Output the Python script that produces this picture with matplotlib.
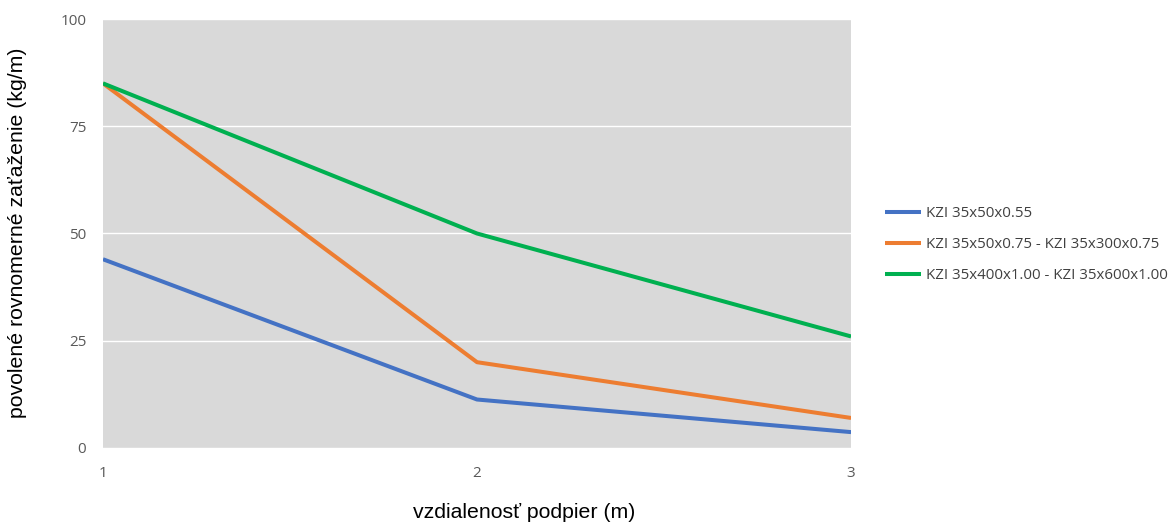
import matplotlib
matplotlib.use('Agg')
import matplotlib.pyplot as plt

# data
distance = [1, 2, 3]
kzi_055 = [44, 11.3, 3.7]
kzi_075 = [85, 20, 7]
kzi_100 = [85, 50, 26]
series_names = ['KZI 35x50x0.55',
                'KZI 35x50x0.75 - KZI 35x300x0.75',
                'KZI 35x400x1.00 - KZI 35x600x1.00']
colors = ['#4472C4', '#ED7D31', '#00B050']
y_ticks = [0, 25, 50, 75, 100]

fig = plt.figure(figsize=(11.7, 5.25), dpi=100)
ax = fig.add_axes([0.088, 0.1467, 0.6394, 0.8171])
ax.set_facecolor('#D9D9D9')

for vals, name, c in zip([kzi_055, kzi_075, kzi_100], series_names, colors):
    ax.plot(distance, vals, color=c, lw=2.9, label=name, solid_capstyle='butt')

ax.set_xlim(1, 3)
ax.set_ylim(0, 100)
ax.set_xticks(distance)
ax.set_yticks(y_ticks)
ax.grid(axis='y', color='white', lw=1)
ax.set_axisbelow(True)
for s in ax.spines.values():
    s.set_visible(False)
ax.tick_params(length=0, labelsize=11, labelcolor='#595959')
ax.tick_params(axis='y', pad=12)
ax.tick_params(axis='x', pad=13)
for lab in ax.get_xticklabels() + ax.get_yticklabels():
    lab.set_family('Open Sans')

fig.text(0.448, 0.005, 'vzdialenosť podpier (m)', ha='center', va='bottom',
         fontsize=15.3, family='Liberation Sans')
fig.text(0.007, 0.556, 'povolené rovnomerné zaťaženie (kg/m)', rotation=90,
         ha='left', va='center', fontsize=15.3, family='Liberation Sans')

leg = ax.legend(loc='center left', bbox_to_anchor=(1.045, 0.474), frameon=False,
                borderpad=0, borderaxespad=0,
                handlelength=2.45, handletextpad=0.3, labelspacing=1.08,
                prop={'family': 'Open Sans', 'size': 10.8})
for t in leg.get_texts():
    t.set_color('#404040')

fig.savefig('out.png', dpi=100)
